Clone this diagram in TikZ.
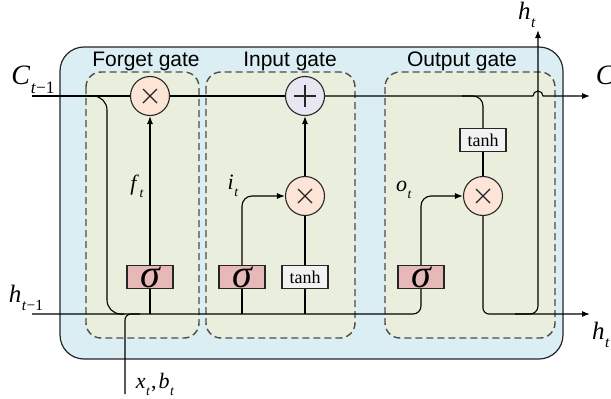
\documentclass[tikz,border=0pt]{standalone}
\usepackage{fontspec}
\setmainfont{Liberation Serif}
\newfontfamily\gatefont{Liberation Sans}
\usetikzlibrary{arrows.meta}
\definecolor{bgblue}{HTML}{DBEEF4}
\definecolor{bggreen}{HTML}{EAEFDD}
\definecolor{peach}{HTML}{FCE5D6}
\definecolor{lav}{HTML}{E8E6F0}
\definecolor{sigpink}{HTML}{E6B9B8}
\definecolor{tanhgray}{HTML}{F2F2F2}
\newcommand{\lsub}[2]{\textit{#1}\kern0.5pt\raisebox{-0.32em}{\scalebox{0.62}{#2}}}
\begin{document}
\begin{tikzpicture}[x=1pt,y=-1pt,line width=1.1pt,
  outerbox/.style={draw=black!85,fill=bgblue,rounded corners=24pt,line width=1.2pt},
  gatebox/.style={draw=black!70,fill=bggreen,dash pattern=on 7pt off 4pt,rounded corners=15pt,line width=1.4pt},
  gatetitle/.style={font=\gatefont\fontsize{21}{24}\selectfont,anchor=base},
  opc/.style={circle,draw=black!85,minimum size=39pt,inner sep=0pt,line width=1.1pt},
  mul/.style={opc,fill=peach,path picture={
      \draw[line width=1.4pt] (path picture bounding box.center) ++(-7,-7) -- ++(14,14);
      \draw[line width=1.4pt] (path picture bounding box.center) ++(-7,7) -- ++(14,-14);}},
  add/.style={opc,fill=lav,path picture={
      \draw[line width=1.6pt] (path picture bounding box.center) ++(-11,0) -- ++(22,0);
      \draw[line width=1.6pt] (path picture bounding box.center) ++(0,-11) -- ++(0,22);}},
  sigbox/.style={draw=black!85,fill=sigpink,minimum width=46pt,minimum height=23pt,inner sep=0pt,line width=1.1pt,
      font=\fontsize{40}{40}\selectfont\itshape},
  tanhbox/.style={draw=black!85,fill=tanhgray,minimum width=46pt,minimum height=23pt,inner sep=0pt,line width=1.1pt,
      font=\fontsize{18}{20}\selectfont},
  arr/.style={-{Latex[length=8pt,width=6pt]}},
  biglbl/.style={font=\fontsize{28}{30}\selectfont},
  midlbl/.style={font=\fontsize{25}{27}\selectfont},
  smlbl/.style={font=\fontsize{22}{24}\selectfont}
]
\useasboundingbox (0,0) rectangle (611,399);
% boxes
\draw[outerbox] (60,47) rectangle (563,359);
\draw[gatebox] (86,72) rectangle (199,338);
\draw[gatebox] (206,72) rectangle (355,338);
\draw[gatebox] (385,72) rectangle (555,338);
\node[gatetitle] (tF) at (146,66) {Forget gate};
\node[gatetitle] (tI) at (290,66) {Input gate};
\node[gatetitle] (tO) at (462,66) {Output gate};
% coordinates
\coordinate (cin) at (32,96);
\coordinate (cout) at (590,96);
\coordinate (hin) at (32,314);
\coordinate (hout) at (590,314);
\coordinate (htop) at (538,30);
\coordinate (xin) at (125,394);
% operators
\node[mul] (fX) at (150,96) {};
\node[add] (pl) at (305,96) {};
\node[mul] (iX) at (305,196) {};
\node[mul] (oX) at (483,196) {};
\node[sigbox] (fS) at (150,277) {σ};
\node[sigbox] (iS) at (242,277) {σ};
\node[tanhbox] (iT) at (305,277) {tanh};
\node[sigbox] (oS) at (421,277) {σ};
\node[tanhbox] (oT) at (483,140) {tanh};
% cell state line
\draw (cin) -- (fX.west);
\draw (fX.east) -- (pl.west);
\draw[arr] (pl.east) -- (533,96) arc (180:360:5) -- (cout);
\draw[rounded corners=10pt] (462,96) -- (483,96) -- (oT.north);
\draw[rounded corners=14pt] (90,96) -- (107,96) -- (107,314) -- (124,314);
% hidden line
\draw[rounded corners=8pt] (hin) -| (oS.south);
\draw[rounded corners=6pt] (140,314) -- (125,314) -- (xin);
\draw (fS.south) -- (fS.south |- hin);
\draw (iS.south) -- (iS.south |- hin);
\draw (iT.south) -- (iT.south |- hin);
% gates
\draw[arr] (fS.north) -- (fX.south);
\draw[arr,rounded corners=10pt] (iS.north) |- (iX.west);
\draw (iT.north) -- (iX.south);
\draw[arr] (iX.north) -- (pl.south);
\draw[arr,rounded corners=10pt] (oS.north) |- (oX.west);
\draw (oT.south) -- (oX.north);
\draw[arr,rounded corners=6pt] (oX.south) |- (hout);
\draw[arr,rounded corners=8pt] (515,314) -- (538,314) -- (htop);
% labels
\node[biglbl] (lC) at (33,80) {\lsub{C}{\textit{t}−1}};
\node[biglbl,anchor=west] (lCt) at (592,80) {\lsub{C}{\textit{t}}};
\node[midlbl] (lh) at (26,298) {\lsub{h}{\textit{t}−1}};
\node[midlbl] (lht) at (527,15) {\lsub{h}{\textit{t}}};
\node[midlbl] (lho) at (601,335) {\lsub{h}{\textit{t}}};
\node[smlbl] (lx) at (155,384) {\lsub{x}{\textit{t}}\kern1pt,\kern2pt\lsub{b}{\textit{t}}};
\node[smlbl] (lf) at (137,186) {\lsub{f}{\textit{t}}};
\node[smlbl] (li) at (233,186) {\lsub{i}{\textit{t}}};
\node[smlbl] (lo) at (404,190) {\lsub{o}{\textit{t}}};
\end{tikzpicture}
\end{document}
